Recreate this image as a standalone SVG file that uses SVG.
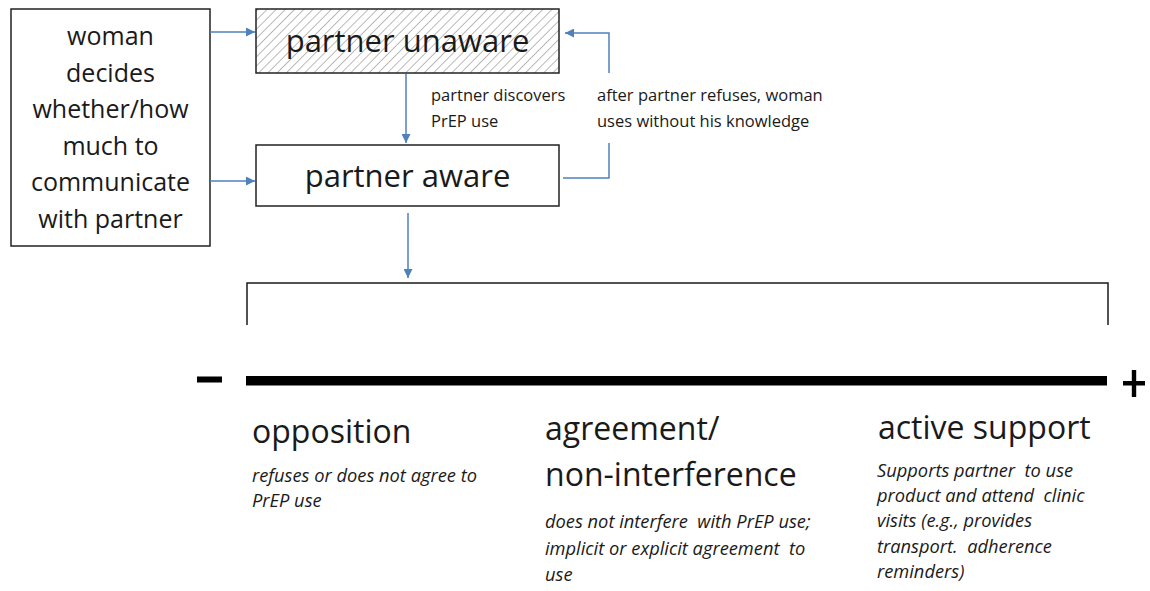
<svg xmlns="http://www.w3.org/2000/svg" width="1150" height="591" viewBox="0 0 1150 591">
  <style>
    .box { fill: #ffffff; stroke: #222222; stroke-width: 1.5; }
    .conn { fill: none; stroke: #4f81bd; stroke-width: 1.5; }
    .t { font-family: "Open Sans", "Noto Sans", "Liberation Sans", sans-serif; fill: #1a1a1a; }
    .left { font-size: 25px; text-anchor: middle; }
    .node { font-size: 31px; text-anchor: middle; }
    .lab { font-size: 16.5px; }
    .head { font-size: 32px; }
    .desc { font-size: 18.3px; font-style: italic; }
  </style>
  <defs>
    <pattern id="hatch" patternUnits="userSpaceOnUse" width="6.5" height="6.5" patternTransform="rotate(45)">
      <rect width="6.5" height="6.5" fill="#ffffff"/>
      <line x1="0" y1="0" x2="0" y2="6.5" stroke="#8c8c8c" stroke-width="1.2"/>
    </pattern>
    <marker id="arr" viewBox="0 0 10 10" refX="10" refY="5" markerWidth="11" markerHeight="9" markerUnits="userSpaceOnUse" orient="auto">
      <path d="M0,0 L10,5 L0,10 z" fill="#4f81bd"/>
    </marker>
  </defs>

  <g id="woman-decides">
    <rect class="box" x="11" y="9" width="199" height="237"/>
    <text class="t left" x="110.5" y="45">woman</text>
    <text class="t left" x="110.5" y="81.5">decides</text>
    <text class="t left" x="110.5" y="118">whether/how</text>
    <text class="t left" x="110.5" y="154.5">much to</text>
    <text class="t left" x="110.5" y="191">communicate</text>
    <text class="t left" x="110.5" y="227.5">with partner</text>
  </g>

  <g id="partner-unaware">
    <rect x="256" y="9" width="303" height="64" fill="url(#hatch)" stroke="#222222" stroke-width="1.5"/>
    <text class="t node" x="407.5" y="52">partner unaware</text>
  </g>

  <g id="partner-aware">
    <rect class="box" x="256" y="145" width="303" height="61"/>
    <text class="t node" x="407.5" y="187">partner aware</text>
  </g>

  <g id="connectors">
    <line class="conn" x1="210" y1="32" x2="255" y2="32" marker-end="url(#arr)"/>
    <line class="conn" x1="210" y1="181" x2="255" y2="181" marker-end="url(#arr)"/>
    <line class="conn" x1="406" y1="74" x2="406" y2="143" marker-end="url(#arr)"/>
    <line class="conn" x1="408" y1="213" x2="408" y2="278" marker-end="url(#arr)"/>
    <polyline class="conn" points="563,178 609,178 609,143"/>
    <polyline class="conn" points="609,73 609,33 565,33" marker-end="url(#arr)"/>
  </g>

  <g id="connector-labels">
    <text class="t lab" x="431" y="101">partner discovers</text>
    <text class="t lab" x="431" y="127">PrEP use</text>
    <text class="t lab" x="597" y="101">after partner refuses, woman</text>
    <text class="t lab" x="597" y="127">uses without his knowledge</text>
  </g>

  <g id="spectrum">
    <path d="M247,325 V283 H1108 V325" fill="none" stroke="#1a1a1a" stroke-width="1.5"/>
    <rect x="246" y="376" width="861" height="9.5" fill="#000000"/>
    <rect x="197" y="376.5" width="25" height="6" fill="#000000"/>
    <rect x="1123" y="381" width="22" height="4.5" fill="#000000"/>
    <rect x="1131.8" y="370" width="4.4" height="27" fill="#000000"/>
  </g>

  <g id="opposition">
    <text class="t head" x="252" y="443">opposition</text>
    <text class="t desc" x="252" y="482">refuses or does not agree to</text>
    <text class="t desc" x="252" y="507">PrEP use</text>
  </g>

  <g id="agreement">
    <text class="t head" x="545" y="440">agreement/</text>
    <text class="t head" x="545" y="486">non-interference</text>
    <text class="t desc" x="545" y="528" xml:space="preserve">does not interfere  with PrEP use;</text>
    <text class="t desc" x="545" y="555" xml:space="preserve">implicit or explicit agreement  to</text>
    <text class="t desc" x="545" y="581">use</text>
  </g>

  <g id="active-support">
    <text class="t head" x="878" y="439">active support</text>
    <text class="t desc" x="877" y="477" xml:space="preserve">Supports partner  to use</text>
    <text class="t desc" x="877" y="502" xml:space="preserve">product and attend  clinic</text>
    <text class="t desc" x="877" y="527">visits (e.g., provides</text>
    <text class="t desc" x="877" y="553" xml:space="preserve">transport.  adherence</text>
    <text class="t desc" x="877" y="578">reminders)</text>
  </g>
</svg>
